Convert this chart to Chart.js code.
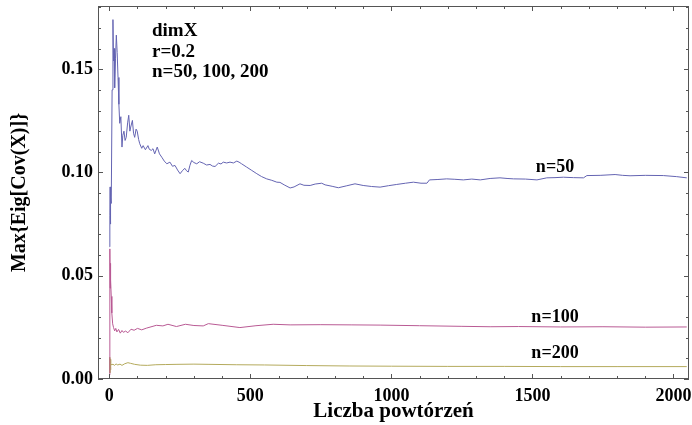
<!DOCTYPE html>
<html>
<head>
<meta charset="utf-8">
<title>Max Eig Cov(X)</title>
<script src="https://cdn.jsdelivr.net/npm/chart.js@4.4.1/dist/chart.umd.min.js"></script>
<style>
  html, body { margin: 0; padding: 0; background: #fff; }
  #wrap { width: 692px; height: 425px; position: relative; }
</style>
</head>
<body>
<div id="wrap"><canvas id="myChart"></canvas></div>
<script>
const ctx = document.getElementById('myChart');

// running estimate for n=50, [repetitions, value]
const n50 = [
    [1, 0.064], [2, 0.079], [3, 0.093], [4, 0.075], [5, 0.088], [7, 0.085], [10, 0.140],
    [13, 0.174], [15, 0.154], [17, 0.160], [19, 0.141], [22, 0.155], [25, 0.1665], [28, 0.158],
    [31, 0.146], [34, 0.133], [37, 0.1238], [41, 0.127], [45, 0.1123], [48, 0.118], [52, 0.120],
    [56, 0.1155], [60, 0.117], [65, 0.124], [69, 0.1277], [73, 0.120], [76, 0.122], [82, 0.1252],
    [86, 0.119], [90, 0.117], [95, 0.121], [99, 0.120], [104, 0.116], [108, 0.1139], [115, 0.1117],
    [120, 0.113], [128, 0.111], [137, 0.113], [142, 0.1112], [149, 0.1107], [155, 0.1115],
    [161, 0.109], [170, 0.1123], [178, 0.109], [186, 0.1074], [195, 0.1055], [204, 0.1042],
    [215, 0.105], [224, 0.103], [233, 0.1034], [242, 0.1012], [251, 0.0994], [260, 0.101],
    [268, 0.102], [274, 0.1008], [280, 0.1002], [286, 0.1035], [292, 0.1058], [300, 0.1048],
    [310, 0.1042], [320, 0.1052], [333, 0.1045], [345, 0.1036], [357, 0.1039], [366, 0.1031],
    [375, 0.1029], [387, 0.1045], [396, 0.1041], [404, 0.105], [416, 0.1046], [428, 0.105],
    [440, 0.1046], [452, 0.1055], [460, 0.105], [469, 0.1042], [487, 0.1026], [505, 0.101],
    [523, 0.0994], [540, 0.098], [558, 0.0969], [576, 0.0962], [594, 0.0953], [605, 0.0952],
    [620, 0.094], [641, 0.0925], [655, 0.093], [676, 0.0945], [690, 0.0938], [712, 0.0937],
    [730, 0.0944], [753, 0.0948], [765, 0.094], [790, 0.0933], [812, 0.0926], [840, 0.0935],
    [871, 0.0945], [900, 0.0937], [930, 0.0932], [960, 0.0929], [990, 0.0936], [1019, 0.0942],
    [1050, 0.0948], [1078, 0.0953], [1105, 0.0948], [1126, 0.0948], [1135, 0.0964],
    [1165, 0.0966], [1196, 0.0969], [1225, 0.0967], [1255, 0.0964], [1285, 0.0968],
    [1315, 0.0964], [1350, 0.0971], [1385, 0.0974], [1410, 0.0971], [1433, 0.0969],
    [1475, 0.0968], [1516, 0.0964], [1551, 0.0974], [1580, 0.0975], [1610, 0.0977],
    [1645, 0.0975], [1681, 0.0974], [1693, 0.0985], [1740, 0.0986], [1793, 0.099],
    [1820, 0.0986], [1846, 0.0984], [1900, 0.0986], [1964, 0.0985], [2010, 0.098], [2047, 0.0974],
];

// n=100
const n100 = [
    [1, 0.002], [2, 0.063], [3, 0.044], [4, 0.056], [5, 0.048], [7, 0.040], [9, 0.032],
    [12, 0.0267], [15, 0.025], [19, 0.0233], [23, 0.0245], [27, 0.0228], [33, 0.024],
    [39, 0.0222], [45, 0.0235], [50, 0.0226], [58, 0.0232], [66, 0.0224], [77, 0.0241],
    [88, 0.0236], [100, 0.0245], [115, 0.0238], [131, 0.0246], [167, 0.026], [190, 0.0257],
    [208, 0.0265], [238, 0.0254], [270, 0.0265], [300, 0.0259], [333, 0.0257], [351, 0.0268],
    [400, 0.026], [463, 0.0249], [520, 0.0258], [581, 0.0265], [641, 0.0262], [750, 0.0263],
    [860, 0.0262], [960, 0.0261], [1100, 0.0258], [1250, 0.0255], [1350, 0.0253],
    [1450, 0.0254], [1600, 0.0252], [1750, 0.0253], [1900, 0.0251], [2047, 0.0252],
];

// n=200
const n200 = [
    [1, 0.0105], [2, 0.003], [3, 0.0095], [4, 0.0045], [6, 0.0075], [9, 0.0068], [13, 0.0072],
    [18, 0.0066], [24, 0.0073], [30, 0.0068], [38, 0.0072], [45, 0.0066], [55, 0.0074],
    [66, 0.0079], [75, 0.0076], [90, 0.0071], [110, 0.0067], [135, 0.0066], [165, 0.0069],
    [200, 0.007], [240, 0.0071], [300, 0.0072], [350, 0.0071], [450, 0.0069], [550, 0.0068],
    [700, 0.0065], [850, 0.0063], [1000, 0.0062], [1200, 0.0061], [1400, 0.0061],
    [1600, 0.006], [1800, 0.006], [2047, 0.006],
];

const seriesLabels = ['n=50', 'n=100', 'n=200'];
const infoLines = ['dimX', 'r=0.2', 'n=50, 100, 200'];
const xMajor = [0, 500, 1000, 1500, 2000];
const yMajor = [0, 0.05, 0.10, 0.15];

const FONT = '"Liberation Serif", "DejaVu Serif", serif';

// tick positions: minor every 100 / 0.01
const xTickValues = [];
for (let v = 0; v <= 2000; v += 100) xTickValues.push(v);
const yTickValues = [];
for (let i = 0; i <= 18; i++) yTickValues.push(i / 100);

const isMajorY = (v) => yMajor.some((m) => Math.abs(m - v) < 1e-9);

const toPoints = (arr) => arr.map(([x, y]) => ({ x, y }));

// no extra room for overhanging tick labels, the frame is fixed
const fixBox = (size) => (scale) => {
    if (scale.isHorizontal()) scale.height = size;
    else scale.width = size;
    scale.paddingTop = 0;
    scale.paddingBottom = 0;
    scale.paddingLeft = 0;
    scale.paddingRight = 0;
};

// frame with inward ticks on all four sides, plus the text annotations
const frameTicks = {
    id: 'frameTicks',
    afterDatasetsDraw(chart) {
        const { ctx, chartArea: a, scales: { x, y } } = chart;
        ctx.save();
        ctx.strokeStyle = '#555';
        ctx.lineWidth = 1;
        ctx.beginPath();
        x.ticks.forEach((t) => {
            const px = Math.round(x.getPixelForValue(t.value)) + 0.5;
            const len = xMajor.includes(t.value) ? 5 : 3;
            ctx.moveTo(px, a.bottom);
            ctx.lineTo(px, a.bottom - len);
            ctx.moveTo(px, a.top);
            ctx.lineTo(px, a.top + len);
        });
        y.ticks.forEach((t) => {
            const py = Math.round(y.getPixelForValue(t.value)) + 0.5;
            const len = isMajorY(t.value) ? 5 : 3;
            ctx.moveTo(a.left, py);
            ctx.lineTo(a.left + len, py);
            ctx.moveTo(a.right, py);
            ctx.lineTo(a.right - len, py);
        });
        ctx.stroke();
        ctx.strokeRect(a.left + 0.5, a.top + 0.5, a.right - a.left - 1, a.bottom - a.top - 1);

        ctx.fillStyle = '#000';
        ctx.textBaseline = 'alphabetic';
        ctx.textAlign = 'left';
        ctx.font = 'bold 19px ' + FONT;
        infoLines.forEach((line, i) => {
            ctx.fillText(line, a.left + 54, a.top + 30 + i * 20.5);
        });

        ctx.textAlign = 'center';
        ctx.font = 'bold 18px ' + FONT;
        const labelY = [0.1004, 0.0277, 0.0102];
        seriesLabels.forEach((s, i) => {
            ctx.fillText(s, x.getPixelForValue(1580), y.getPixelForValue(labelY[i]));
        });
        ctx.restore();
    },
};

const lineStyle = {
    fill: false,
    tension: 0,
    borderWidth: 1,
    pointRadius: 0,
    pointHoverRadius: 0,
};

new Chart(ctx, {
    type: 'line',
    data: {
        datasets: [
            { ...lineStyle, label: seriesLabels[0], data: toPoints(n50), borderColor: '#6464b2' },
            { ...lineStyle, label: seriesLabels[1], data: toPoints(n100), borderColor: '#b95a94' },
            { ...lineStyle, label: seriesLabels[2], data: toPoints(n200), borderColor: '#b4aa5c' },
        ],
    },
    options: {
        responsive: true,
        maintainAspectRatio: false,
        animation: false,
        layout: { padding: { top: 6, right: 3, left: 0, bottom: 0 } },
        plugins: {
            legend: { display: false },
            tooltip: { enabled: false },
        },
        scales: {
            x: {
                type: 'linear',
                min: -40,
                max: 2055,
                afterBuildTicks: (scale) => {
                    scale.ticks = xTickValues.map((v) => ({ value: v }));
                },
                afterFit: fixBox(46),
                grid: { display: false, drawTicks: false },
                border: { display: false },
                ticks: {
                    autoSkip: false,
                    maxRotation: 0,
                    padding: 7,
                    color: '#000',
                    font: { family: FONT, weight: 'bold', size: 18 },
                    callback: (v) => (xMajor.includes(v) ? String(v) : ''),
                },
                title: {
                    display: true,
                    text: 'Liczba powtórzeń',
                    color: '#000',
                    font: { family: FONT, weight: 'bold', size: 21 },
                    padding: { top: 0, bottom: 1 },
                },
            },
            y: {
                type: 'linear',
                min: 0,
                max: 0.1806,
                afterBuildTicks: (scale) => {
                    scale.ticks = yTickValues.map((v) => ({ value: v }));
                },
                afterFit: fixBox(98),
                grid: { display: false, drawTicks: false },
                border: { display: false },
                ticks: {
                    autoSkip: false,
                    padding: 5,
                    color: '#000',
                    font: { family: FONT, weight: 'bold', size: 18 },
                    callback: (v) => (isMajorY(v) ? v.toFixed(2) : ''),
                },
                title: {
                    display: true,
                    text: 'Max{Eig[Cov(X)]}',
                    color: '#000',
                    font: { family: FONT, weight: 'bold', size: 20 },
                    padding: { top: 8, bottom: 0 },
                },
            },
        },
    },
    plugins: [frameTicks],
});
</script>
</body>
</html>
